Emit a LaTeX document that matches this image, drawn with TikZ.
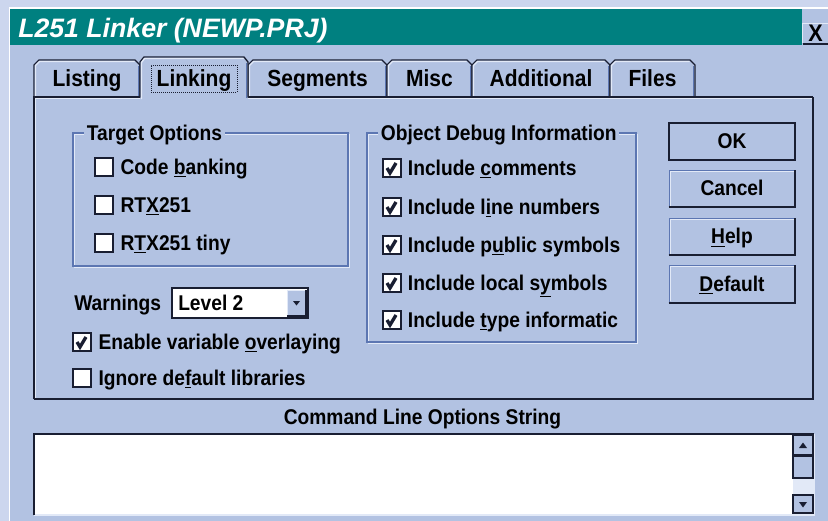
\documentclass[tikz,border=0pt]{standalone}
\usepackage{fontspec}
\setmainfont{Liberation Sans}[FakeStretch=0.9]
\newfontfamily\titlefont{Liberation Sans}
\usepackage{tikz}
\usetikzlibrary{positioning}
\definecolor{dlgbg}{RGB}{178,194,226}
\definecolor{framebg}{RGB}{204,214,238}
\definecolor{titleteal}{RGB}{0,128,128}
\definecolor{edgedark}{RGB}{25,30,50}
\definecolor{grpline}{RGB}{92,118,178}
\definecolor{hilite}{RGB}{226,233,247}
\tikzset{
	dlgtext/.style={
		font=\fontsize{16}{18}\selectfont\bfseries,
		text=black,
		inner sep=0pt,
		text height=11.2pt,
		text depth=0pt
	},
	optlabel/.style={dlgtext,anchor=west},
	tablabel/.style={dlgtext,font=\fontsize{17.5}{20}\selectfont\bfseries,text height=12.2pt},
	chkbox/.style={
		rectangle,
		draw=edgedark,
		line width=1pt,
		fill=white,
		minimum size=13.5pt,
		inner sep=0pt
	},
	ticked/.style={
		chkbox,
		path picture={\draw[edgedark,line width=2.5pt,line join=miter]
			([shift={(-5,0)}]path picture bounding box.center) -- ++(3,5) -- ++(6,-10);}
	},
	dlgbutton/.style={
		dlgtext,
		rectangle,
		draw=grpline,
		fill=dlgbg,
		minimum width=94.5pt,
		minimum height=27.75pt
	},
	tabshape/.style={draw=edgedark,line width=1pt,fill=dlgbg},
	shadow/.style={edgedark,line width=1.6pt},
	lightedge/.style={hilite,line width=1pt}
}

\begin{document}
\begin{tikzpicture}[x=0.75pt,y=-0.75pt]
	\useasboundingbox (0,0) rectangle (828,521);
	% window background and frame
	\fill[dlgbg] (0,0) rectangle (828,521);
	\fill[framebg] (0,0) rectangle (828,8);
	\fill[framebg] (0,0) rectangle (10,521);
	\draw[white,line width=1pt] (9.5,521) -- (9.5,8) -- (828,8);
	% title bar
	\fill[titleteal] (10,9) rectangle (802,45);
	\node[anchor=west,inner sep=0pt,text height=14.3pt,text depth=0pt,text=white,
		font=\titlefont\fontsize{20}{22}\selectfont\bfseries\itshape] (title) at (18,27.5) {L251 Linker (NEWP.PRJ)};
	\node[rectangle,fill=dlgbg,minimum width=18.75pt,minimum height=14.25pt,inner sep=0pt,
		text height=12pt,text depth=0pt,font=\fontsize{18}{19}\selectfont\bfseries] (closebtn) at (815.5,33) {X};
	\draw[lightedge] (closebtn.south west) -- (closebtn.north west) -- (closebtn.north east);
	\draw[shadow] ([yshift=-1]closebtn.south west) -- ([yshift=-1]closebtn.south east);

	% tabs behind the panel
	\foreach \xa/\xb/\tname in {34/140/Listing,248/387/Segments,387/472/Misc,472/610/Additional,610/695/Files}{
		\draw[tabshape] (\xa,98) -- (\xa,65) -- (\xa+5,60) -- (\xb-5,60) -- (\xb,65) -- (\xb,98);
		\draw[lightedge] (\xa+1.5,97) -- (\xa+1.5,65.5) -- (\xa+5.5,61.5) -- (\xb-5.5,61.5);
		\draw[grpline,line width=1pt] (\xb-1.6,66) -- (\xb-1.6,97);
		\node[tablabel] (tab\tname) at ({(\xa+\xb)/2},78.5) {\tname};
	}

	% panel
	\fill[dlgbg] (34,97) rectangle (813,399);
	\draw[lightedge] (35.5,398) -- (35.5,98.5) -- (812,98.5);
	\draw[edgedark,line width=1pt] (34,399) -- (34,97) -- (813,97);
	\draw[shadow] (813,97) -- (813,399) -- (34,399);

	% selected tab
	\fill[dlgbg] (140,100) -- (140,62) -- (144,57) -- (244,57) -- (248,62) -- (248,100) -- cycle;
	\draw[edgedark,line width=1pt] (140,97.5) -- (140,62) -- (144,57) -- (244,57) -- (248,62) -- (248,97.5);
	\draw[lightedge] (141.5,99) -- (141.5,62.5) -- (144.5,58.5) -- (243.5,58.5);
	\draw[grpline,line width=1pt] (246.4,63) -- (246.4,98);
	\node[tablabel,draw=edgedark,line width=0.6pt,dash pattern=on 0.75pt off 0.75pt,
		minimum width=64.5pt,minimum height=20.25pt] (tabLinking) at (194,78.5) {Linking};

	% group boxes
	\draw[lightedge] (74.3,134.3) rectangle (349.3,267.3);
	\draw[grpline,line width=1pt] (73,133) rectangle (348,266);
	\node[optlabel,fill=dlgbg,inner xsep=2pt] (grptarget) at (84,133) {Target Options};
	\draw[lightedge] (368.3,134.3) rectangle (637.3,343.3);
	\draw[grpline,line width=1pt] (367,133) rectangle (636,342);
	\node[optlabel,fill=dlgbg,inner xsep=2pt] (grpdebug) at (378,133) {Object Debug Information};

	% target options
	\node[chkbox] (cbcode) at (104,167) {};
	\node[optlabel,right=5pt of cbcode] (lblcode) {Code \underline{b}anking};
	\node[chkbox] (cbrtx) at (104,205) {};
	\node[optlabel,right=5pt of cbrtx] (lblrtx) {RT\underline{X}251};
	\node[chkbox] (cbtiny) at (104,243) {};
	\node[optlabel,right=5pt of cbtiny] (lbltiny) {R\underline{T}X251 tiny};

	% object debug information
	\node[ticked] (cbcomments) at (392,168) {};
	\node[optlabel,right=4.5pt of cbcomments] (lblcomments) {Include \underline{c}omments};
	\node[ticked] (cblines) at (392,207) {};
	\node[optlabel,right=4.5pt of cblines] (lbllines) {Include l\underline{i}ne numbers};
	\node[ticked] (cbpublic) at (392,245) {};
	\node[optlabel,right=4.5pt of cbpublic] (lblpublic) {Include p\underline{u}blic symbols};
	\node[ticked] (cblocal) at (392,283) {};
	\node[optlabel,right=4.5pt of cblocal] (lbllocal) {Include local s\underline{y}mbols};
	\node[ticked] (cbtype) at (392,320) {};
	\node[optlabel,right=4.5pt of cbtype] (lbltype) {Include \underline{t}ype informatic};

	% warnings and lower options
	\node[optlabel] (lblwarn) at (74,303) {Warnings};
	\fill[white] (172,288) rectangle (308,318);
	\draw[edgedark,line width=1pt] (172,288) rectangle (308,318);
	\node[optlabel] (lbllevel) at (178,303) {Level 2};
	\fill[dlgbg] (287,290) rectangle (306,316);
	\draw[lightedge] (287.5,315) -- (287.5,290.5) -- (305,290.5);
	\draw[shadow] (287,316) -- (306,316) -- (306,290);
	\fill[edgedark] (293,301) -- (300,301) -- (296.5,305.5) -- cycle;
	\node[ticked] (cboverlay) at (82,342) {};
	\node[optlabel,right=5pt of cboverlay] (lbloverlay) {Enable variable \underline{o}verlaying};
	\node[chkbox] (cbignore) at (82,378) {};
	\node[optlabel,right=5pt of cbignore] (lblignore) {Ignore de\underline{f}ault libraries};

	% buttons
	\node[dlgbutton,draw=edgedark,line width=2.2pt] (btnok) at (732,141.5) {OK};
	\node[dlgbutton] (btncancel) at (732,188.5) {Cancel};
	\node[dlgbutton] (btnhelp) at (732,236.5) {\underline{H}elp};
	\node[dlgbutton] (btndefault) at (732,284) {\underline{D}efault};
	\foreach \b in {btncancel,btnhelp,btndefault}{
		\draw[lightedge] ([shift={(1.5,-1.5)}]\b.south west) -- ([shift={(1.5,1.5)}]\b.north west) -- ([shift={(-1.5,1.5)}]\b.north east);
		\draw[shadow] (\b.south west) -- (\b.south east) -- (\b.north east);
	}

	% command line string
	\node[dlgtext] (lblcmd) at (422.5,417.5) {Command Line Options String};
	\fill[white] (34,434) rectangle (814,515);
	\draw[hilite,line width=1pt] (34,515) -- (814,515) -- (814,434);
	\draw[edgedark,line width=1.6pt] (34,515) -- (34,434) -- (814,434);
	% scroll bar
	\fill[hilite] (793,478) rectangle (813,495);
	\draw[tabshape] (793,435) rectangle (813,455);
	\draw[tabshape] (793,456) rectangle (813,478);
	\draw[tabshape] (793,495) rectangle (813,513);
	\fill[edgedark] (799,448) -- (807,448) -- (803,442.5) -- cycle;
	\fill[edgedark] (799,502) -- (807,502) -- (803,507.5) -- cycle;
\end{tikzpicture}
\end{document}
